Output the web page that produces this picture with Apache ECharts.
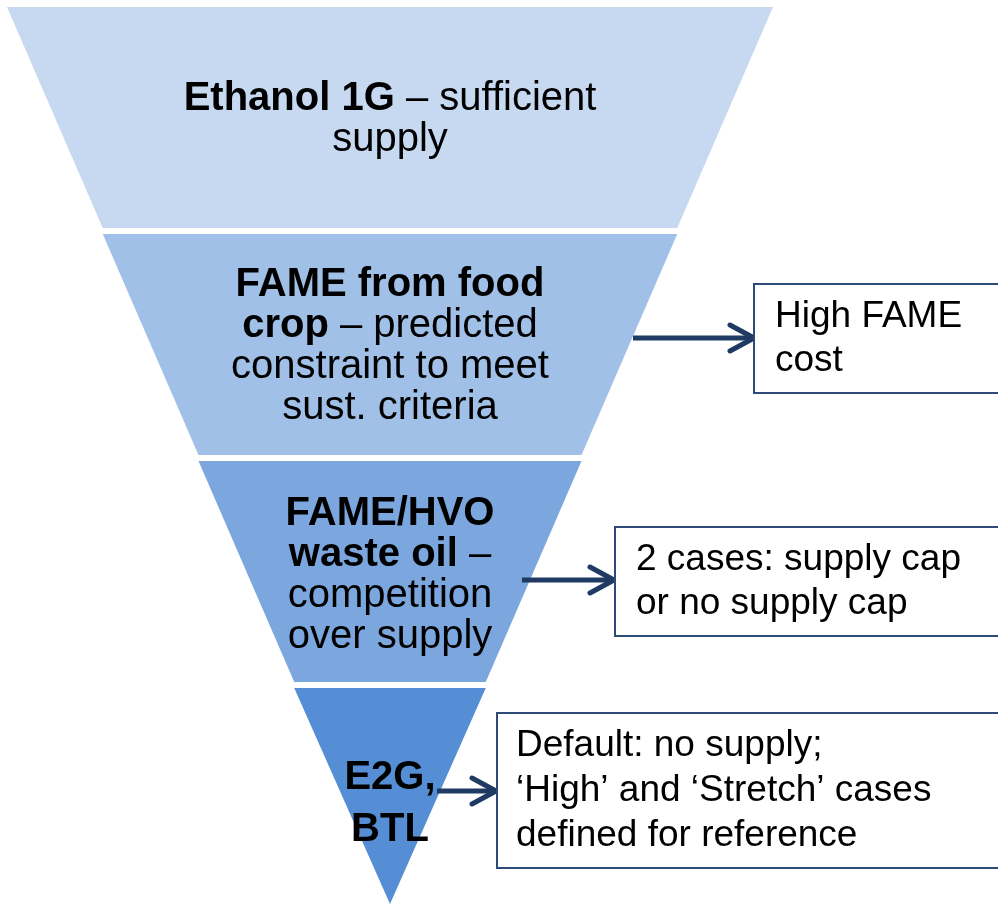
<!DOCTYPE html>
<html>
<head>
<meta charset="utf-8">
<script src="https://cdn.jsdelivr.net/npm/echarts@6/dist/echarts.min.js"></script>
<style>
  html, body { margin: 0; padding: 0; background: #ffffff; }
  #chart { width: 998px; height: 905px; }
</style>
</head>
<body>
<div id="chart"></div>
<script>
// ---- data ----
const stageNames = ['Ethanol 1G', 'FAME from food crop', 'FAME/HVO waste oil', 'E2G, BTL'];
const stageValues = [100, 75, 50, 25];
const stageLabels = [
  '{b|Ethanol 1G}{n| – sufficient}\n{n|supply}',
  '{b|FAME from food}\n{b|crop}{n| – predicted}\n{n|constraint to meet}\n{n|sust. criteria}',
  '{b|FAME/HVO}\n{b|waste oil}{n| –}\n{n|competition}\n{n|over supply}',
  '{b4|E2G,}\n{b4|BTL}'
];
const noteTexts = [
  'High FAME\ncost',
  '2 cases: supply cap\nor no supply cap',
  'Default: no supply;\n‘High’ and ‘Stretch’ cases\ndefined for reference'
];

// ---- styling / layout (kept apart from the data) ----
const stageColors = ['#C6D9F1', '#A1C0E7', '#7BA7DE', '#558ED5'];
const stageHeights = [221, 221, 221, 216];
const labelPadTop = [4, 4, 8, 16];

const chart = echarts.init(document.getElementById('chart'), null, { renderer: 'canvas' });
const FONT = '"Liberation Sans", Arial, sans-serif';
const navy = '#1F3A63';
const boxStroke = '#2C4B76';

function arrow(x1, x2, y) {
  return [
    { type: 'polyline', z: 100, shape: { points: [[x1, y], [x2 - 2, y]] },
      style: { stroke: navy, lineWidth: 5, lineCap: 'butt', fill: null } },
    { type: 'polyline', z: 100, shape: { points: [[x2 - 24, y - 13], [x2, y], [x2 - 24, y + 13]] },
      style: { stroke: navy, lineWidth: 5, lineCap: 'round', lineJoin: 'round', fill: null } }
  ];
}
function box(x, y, w, h, text, tx, lh) {
  return [
    { type: 'rect', z: 100, shape: { x: x, y: y, width: w, height: h },
      style: { fill: '#ffffff', stroke: boxStroke, lineWidth: 2 } },
    { type: 'text', z: 101, x: tx, y: y + h / 2,
      style: { text: text, fontFamily: FONT, fontSize: 37, fill: '#000', lineHeight: lh,
               align: 'left', verticalAlign: 'middle' } }
  ];
}

const option = {
  animation: false,
  backgroundColor: '#ffffff',
  series: [{
    type: 'funnel',
    sort: 'none',
    left: 7, top: 7, width: 766, height: 898,
    min: 0, max: 100,
    minSize: '0%', maxSize: '100%',
    gap: 6,
    silent: true,
    itemStyle: { borderWidth: 0 },
    emphasis: { disabled: true },
    labelLine: { show: false },
    label: {
      show: true,
      position: 'inside',
      color: '#000',
      formatter: function (p) { return stageLabels[p.dataIndex]; },
      rich: {
        b: { fontFamily: FONT, fontSize: 40, fontWeight: 'bold', color: '#000', lineHeight: 41 },
        n: { fontFamily: FONT, fontSize: 40, color: '#000', lineHeight: 41 },
        b4: { fontFamily: FONT, fontSize: 40, fontWeight: 'bold', color: '#000', lineHeight: 52 }
      }
    },
    data: stageNames.map(function (n, i) {
      return {
        name: n,
        value: stageValues[i],
        itemStyle: { color: stageColors[i], height: stageHeights[i] },
        label: { padding: [labelPadTop[i], 0, 0, 0] }
      };
    })
  }],
  graphic: [].concat(
    arrow(633, 754, 338),
    arrow(522, 614, 580),
    arrow(437, 496, 791),
    box(754, 284, 270, 109, noteTexts[0], 775, 44),
    box(615, 527, 410, 109, noteTexts[1], 636, 44),
    box(497, 713, 530, 155, noteTexts[2], 516, 45)
  )
};
chart.setOption(option);
</script>
</body>
</html>
